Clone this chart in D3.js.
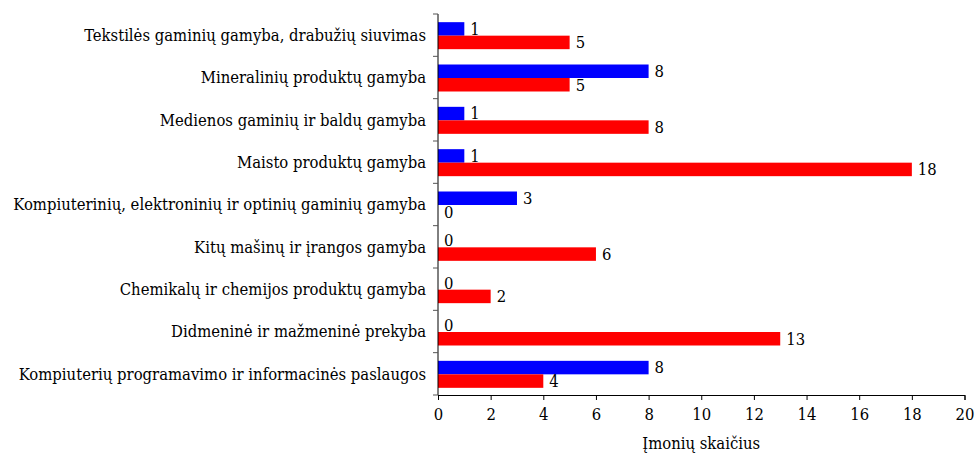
<!DOCTYPE html>
<html>
<head>
<meta charset="utf-8">
<script src="https://cdn.jsdelivr.net/npm/d3@7"></script>
<style>
  body { margin: 0; background: #fff; }
</style>
</head>
<body>
<div id="chart"></div>
<script>
var categories = [
    "Tekstilės gaminių gamyba, drabužių siuvimas",
    "Mineralinių produktų gamyba",
    "Medienos gaminių ir baldų gamyba",
    "Maisto produktų gamyba",
    "Kompiuterinių, elektroninių ir optinių gaminių gamyba",
    "Kitų mašinų ir įrangos gamyba",
    "Chemikalų ir chemijos produktų gamyba",
    "Didmeninė ir mažmeninė prekyba",
    "Kompiuterių programavimo ir informacinės paslaugos"
];
var blueValues = [1, 8, 1, 1, 3, 0, 0, 0, 8];
var redValues = [5, 5, 8, 18, 0, 6, 2, 13, 4];
var xTicks = [0, 2, 4, 6, 8, 10, 12, 14, 16, 18, 20];
var xTitle = "Įmonių skaičius";

var FONT = "'DejaVu Serif Condensed', 'DejaVu Serif'";

function render_chart() {
    var width = 976, height = 456,
        left = 438, right = 964.5, top = 14, bottom = 395,
        fs = "16.5px";

    var svg = d3.select("#chart").append("svg")
        .attr("width", width)
        .attr("height", height);

    var x = d3.scaleLinear().domain([0, 20]).range([left, right]);
    var y = d3.scaleBand().domain(categories).range([top, bottom]);
    var inner = d3.scaleBand().domain(["blue", "red"]).range([0, 27]);
    var offset = (y.bandwidth() - 27) / 2 + 0.5;

    var rows = categories.map(function (c, i) {
        return {name: c, blue: blueValues[i], red: redValues[i]};
    });

    var colors = {blue: "#0000ff", red: "#ff0000"};

    function font(sel) {
        return sel.attr("font-family", FONT)
            .style("font-stretch", "condensed")
            .style("font-size", fs);
    }

    ["blue", "red"].forEach(function (key) {
        svg.append("g").selectAll("rect")
            .data(rows)
            .enter().append("rect")
            .attr("x", x(0))
            .attr("y", function (d) { return y(d.name) + offset + inner(key); })
            .attr("width", function (d) { return x(d[key]) - x(0); })
            .attr("height", inner.bandwidth())
            .style("fill", colors[key]);

        svg.append("g").selectAll("text")
            .data(rows)
            .enter().append("text")
            .attr("x", function (d) { return x(d[key]) + 6; })
            .attr("y", function (d) { return y(d.name) + offset + inner(key) + inner.bandwidth() / 2; })
            .attr("dy", ".35em")
            .call(font)
            .text(function (d) { return d[key]; });
    });

    // category labels
    svg.append("g").selectAll("text")
        .data(categories)
        .enter().append("text")
        .attr("x", left - 12)
        .attr("y", function (d) { return y(d) + y.bandwidth() / 2; })
        .attr("dy", ".35em")
        .call(font)
        .style("text-anchor", "end")
        .text(function (d) { return d; });

    // y axis line and boundary ticks
    svg.append("line")
        .attr("x1", left).attr("x2", left)
        .attr("y1", top).attr("y2", bottom)
        .style("stroke", "#000");
    svg.append("g").selectAll("line")
        .data(categories.concat(["end"]))
        .enter().append("line")
        .attr("x1", left - 5).attr("x2", left)
        .attr("y1", function (d, i) { return top + i * y.step(); })
        .attr("y2", function (d, i) { return top + i * y.step(); })
        .style("stroke", "#555");

    // x axis
    var xAxis = d3.axisBottom(x).tickValues(xTicks).tickSize(5).tickPadding(8);
    var gx = svg.append("g")
        .attr("transform", "translate(0," + bottom + ")")
        .call(xAxis);
    gx.select(".domain").style("stroke", "#000");
    gx.selectAll(".tick line").style("stroke", "#000");
    gx.selectAll(".tick text")
        .call(font)
        .style("fill", "#000");

    svg.append("text")
        .attr("x", (left + right) / 2)
        .attr("y", 449)
        .call(font)
        .style("text-anchor", "middle")
        .text(xTitle);
}

render_chart();
</script>
</body>
</html>
